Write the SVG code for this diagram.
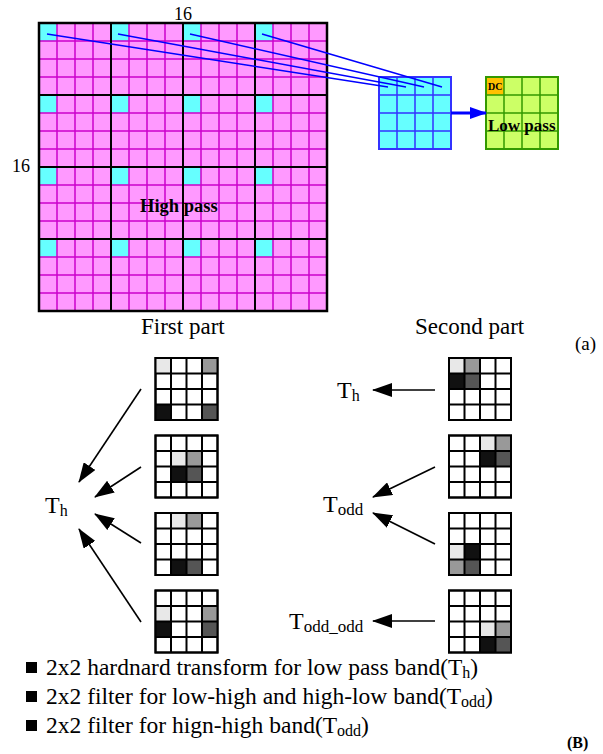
<svg xmlns="http://www.w3.org/2000/svg" width="603" height="754" viewBox="0 0 603 754">
<style>
text{font-family:"Liberation Serif","Times New Roman",serif;fill:#000}
.b{font-weight:bold}
.thin{stroke:#CC00CC;stroke-width:1.5;fill:none}
.thick{stroke:#000;stroke-width:2;fill:none}
.cy{fill:#66FFFF}
.sg{fill:#fff;stroke:#000;stroke-width:2}
.sgl{stroke:#000;stroke-width:2;fill:none}
.arr{stroke:#000;stroke-width:1.6;fill:none;marker-end:url(#ah)}
.lt{fill:#E8E8E8}.md{fill:#999}.dk{fill:#111}.dg{fill:#555}
</style>
<defs>
<marker id="ah" viewBox="0 0 20 14" refX="19" refY="7" markerWidth="20" markerHeight="14" markerUnits="userSpaceOnUse" orient="auto"><path d="M0,0 L20,7 L0,14 Z" fill="#000"/></marker>
<marker id="bh" viewBox="0 0 17 12" refX="16" refY="6" markerWidth="17" markerHeight="12" markerUnits="userSpaceOnUse" orient="auto"><path d="M0,0 L17,6 L0,12 Z" fill="#0000FF"/></marker>
</defs>

<g id="high-pass-grid">
<rect x="39" y="23" width="288" height="288" fill="#FF99FF"/>
<g class="cy">
<rect x="39" y="23" width="18" height="18"/><rect x="111" y="23" width="18" height="18"/><rect x="183" y="23" width="18" height="18"/><rect x="255" y="23" width="18" height="18"/>
<rect x="39" y="95" width="18" height="18"/><rect x="111" y="95" width="18" height="18"/><rect x="183" y="95" width="18" height="18"/><rect x="255" y="95" width="18" height="18"/>
<rect x="39" y="167" width="18" height="18"/><rect x="111" y="167" width="18" height="18"/><rect x="183" y="167" width="18" height="18"/><rect x="255" y="167" width="18" height="18"/>
<rect x="39" y="239" width="18" height="18"/><rect x="111" y="239" width="18" height="18"/><rect x="183" y="239" width="18" height="18"/><rect x="255" y="239" width="18" height="18"/>
</g>
<path class="thin" d="M57 23V311M75 23V311M93 23V311M129 23V311M147 23V311M165 23V311M201 23V311M219 23V311M237 23V311M273 23V311M291 23V311M309 23V311M39 41H327M39 59H327M39 77H327M39 113H327M39 131H327M39 149H327M39 185H327M39 203H327M39 221H327M39 257H327M39 275H327M39 293H327"/>
<path class="thick" d="M111 23V311M183 23V311M255 23V311M39 95H327M39 167H327M39 239H327"/>
<rect x="39" y="23" width="288" height="288" fill="none" stroke="#000" stroke-width="2.5"/>
<text x="140" y="212" font-size="18.5" class="b">High pass</text>
<text x="174" y="20" font-size="18">16</text>
<text x="12" y="172" font-size="18">16</text>
</g>

<g id="dc-grid">
<rect x="379" y="77" width="72" height="72" fill="#66FFFF" stroke="#3333FF" stroke-width="2"/>
<path d="M397 77V149M415 77V149M433 77V149M379 95H451M379 113H451M379 131H451" stroke="#3333FF" stroke-width="1.5" fill="none"/>
</g>

<g id="low-pass-grid">
<rect x="486" y="77" width="72" height="72" fill="#CCFF66" stroke="#339900" stroke-width="2"/>
<rect x="487" y="78" width="17" height="17" fill="#FFC000"/>
<path d="M504 77V149M522 77V149M540 77V149M486 95H558M486 113H558M486 131H558" stroke="#339900" stroke-width="1.5" fill="none"/>
<text x="488" y="90" font-size="10" class="b">DC</text>
<text x="488" y="131" font-size="17" class="b">Low pass</text>
</g>

<g id="connectors-top" stroke="#0000FF" stroke-width="1.5" fill="none">
<path d="M47 34L388 87M118 34L406 87M190 34L424 87M262 34L442 87"/>
<line x1="451" y1="113" x2="486" y2="113" stroke-width="3" marker-end="url(#bh)"/>
</g>

<g id="captions">
<text x="141" y="334" font-size="23">First part</text>
<text x="415" y="334" font-size="23">Second part</text>
<text x="575" y="350" font-size="19">(a)</text>
</g>

<g id="left-grid-1">
<rect class="sg" x="155.5" y="358" width="62" height="62"/>
<rect class="lt" x="155.5" y="358" width="15.5" height="15.5"/><rect class="md" x="202" y="358" width="15.5" height="15.5"/>
<rect class="dk" x="155.5" y="404.5" width="15.5" height="15.5"/><rect class="dg" x="202" y="404.5" width="15.5" height="15.5"/>
<path class="sgl" d="M171 358V420M186.5 358V420M202 358V420M155.5 373.5H217.5M155.5 389H217.5M155.5 404.5H217.5"/>
<rect x="155.5" y="358" width="62" height="62" fill="none" stroke="#000" stroke-width="2"/>
</g>
<g id="left-grid-2">
<rect class="sg" x="155.5" y="435.5" width="62" height="62"/>
<rect class="lt" x="171" y="451" width="15.5" height="15.5"/><rect class="md" x="186.5" y="451" width="15.5" height="15.5"/>
<rect class="dk" x="171" y="466.5" width="15.5" height="15.5"/><rect class="dg" x="186.5" y="466.5" width="15.5" height="15.5"/>
<path class="sgl" d="M171 435.5V497.5M186.5 435.5V497.5M202 435.5V497.5M155.5 451H217.5M155.5 466.5H217.5M155.5 482H217.5"/>
<rect x="155.5" y="435.5" width="62" height="62" fill="none" stroke="#000" stroke-width="2"/>
</g>
<g id="left-grid-3">
<rect class="sg" x="155.5" y="513" width="62" height="62"/>
<rect class="lt" x="171" y="513" width="15.5" height="15.5"/><rect class="md" x="186.5" y="513" width="15.5" height="15.5"/>
<rect class="dk" x="171" y="559.5" width="15.5" height="15.5"/><rect class="dg" x="186.5" y="559.5" width="15.5" height="15.5"/>
<path class="sgl" d="M171 513V575M186.5 513V575M202 513V575M155.5 528.5H217.5M155.5 544H217.5M155.5 559.5H217.5"/>
<rect x="155.5" y="513" width="62" height="62" fill="none" stroke="#000" stroke-width="2"/>
</g>
<g id="left-grid-4">
<rect class="sg" x="155.5" y="590.5" width="62" height="62"/>
<rect class="lt" x="155.5" y="606" width="15.5" height="15.5"/><rect class="md" x="202" y="606" width="15.5" height="15.5"/>
<rect class="dk" x="155.5" y="621.5" width="15.5" height="15.5"/><rect class="dg" x="202" y="621.5" width="15.5" height="15.5"/>
<path class="sgl" d="M171 590.5V652.5M186.5 590.5V652.5M202 590.5V652.5M155.5 606H217.5M155.5 621.5H217.5M155.5 637H217.5"/>
<rect x="155.5" y="590.5" width="62" height="62" fill="none" stroke="#000" stroke-width="2"/>
</g>

<g id="right-grid-1">
<rect class="sg" x="449" y="358" width="62" height="62"/>
<rect class="lt" x="449" y="358" width="15.5" height="15.5"/><rect class="md" x="464.5" y="358" width="15.5" height="15.5"/>
<rect class="dk" x="449" y="373.5" width="15.5" height="15.5"/><rect class="dg" x="464.5" y="373.5" width="15.5" height="15.5"/>
<path class="sgl" d="M464.5 358V420M480 358V420M495.5 358V420M449 373.5H511M449 389H511M449 404.5H511"/>
<rect x="449" y="358" width="62" height="62" fill="none" stroke="#000" stroke-width="2"/>
</g>
<g id="right-grid-2">
<rect class="sg" x="449" y="435.5" width="62" height="62"/>
<rect class="lt" x="480" y="435.5" width="15.5" height="15.5"/><rect class="md" x="495.5" y="435.5" width="15.5" height="15.5"/>
<rect class="dk" x="480" y="451" width="15.5" height="15.5"/><rect class="dg" x="495.5" y="451" width="15.5" height="15.5"/>
<path class="sgl" d="M464.5 435.5V497.5M480 435.5V497.5M495.5 435.5V497.5M449 451H511M449 466.5H511M449 482H511"/>
<rect x="449" y="435.5" width="62" height="62" fill="none" stroke="#000" stroke-width="2"/>
</g>
<g id="right-grid-3">
<rect class="sg" x="449" y="513" width="62" height="62"/>
<rect class="lt" x="449" y="544" width="15.5" height="15.5"/><rect class="dk" x="464.5" y="544" width="15.5" height="15.5"/>
<rect class="md" x="449" y="559.5" width="15.5" height="15.5"/><rect class="dg" x="464.5" y="559.5" width="15.5" height="15.5"/>
<path class="sgl" d="M464.5 513V575M480 513V575M495.5 513V575M449 528.5H511M449 544H511M449 559.5H511"/>
<rect x="449" y="513" width="62" height="62" fill="none" stroke="#000" stroke-width="2"/>
</g>
<g id="right-grid-4">
<rect class="sg" x="449" y="590.5" width="62" height="62"/>
<rect class="lt" x="480" y="621.5" width="15.5" height="15.5"/><rect class="md" x="495.5" y="621.5" width="15.5" height="15.5"/>
<rect class="dk" x="480" y="637" width="15.5" height="15.5"/><rect class="dg" x="495.5" y="637" width="15.5" height="15.5"/>
<path class="sgl" d="M464.5 590.5V652.5M480 590.5V652.5M495.5 590.5V652.5M449 606H511M449 621.5H511M449 637H511"/>
<rect x="449" y="590.5" width="62" height="62" fill="none" stroke="#000" stroke-width="2"/>
</g>

<g id="label-th-left"><text x="45" y="513" font-size="24">T<tspan font-size="16" dy="3">h</tspan></text></g>
<g id="label-th-right"><text x="337" y="398" font-size="24">T<tspan font-size="16" dy="3">h</tspan></text></g>
<g id="label-todd"><text x="323" y="512" font-size="24">T<tspan font-size="17" dy="3">odd</tspan></text></g>
<g id="label-todd-odd"><text x="289" y="629" font-size="24">T<tspan font-size="17" dy="3">odd_odd</tspan></text></g>

<g id="connectors-bottom">
<line class="arr" x1="141" y1="389" x2="79" y2="482"/>
<line class="arr" x1="141" y1="467" x2="95" y2="497"/>
<line class="arr" x1="141" y1="543" x2="95" y2="514"/>
<line class="arr" x1="141" y1="622" x2="79" y2="529"/>
<line class="arr" x1="435" y1="390" x2="373" y2="390"/>
<line class="arr" x1="435" y1="467" x2="373" y2="497"/>
<line class="arr" x1="435" y1="544" x2="373" y2="513"/>
<line class="arr" x1="435" y1="621" x2="373" y2="621"/>
</g>

<g id="legend">
<rect x="26" y="662" width="11" height="11" fill="#000"/>
<rect x="26" y="691" width="11" height="11" fill="#000"/>
<rect x="26" y="720" width="11" height="11" fill="#000"/>
<text x="46" y="675" font-size="23.5">2x2 hardnard transform for low pass band(T<tspan font-size="16" dy="3">h</tspan><tspan dy="-3">)</tspan></text>
<text x="46" y="704" font-size="23.5">2x2 filter for low-high and high-low band(T<tspan font-size="16" dy="3">odd</tspan><tspan dy="-3">)</tspan></text>
<text x="46" y="733" font-size="23.5">2x2 filter for hign-high band(T<tspan font-size="16" dy="3">odd</tspan><tspan dy="-3">)</tspan></text>
<text x="567" y="748" font-size="16" class="b">(B)</text>
</g>
</svg>
